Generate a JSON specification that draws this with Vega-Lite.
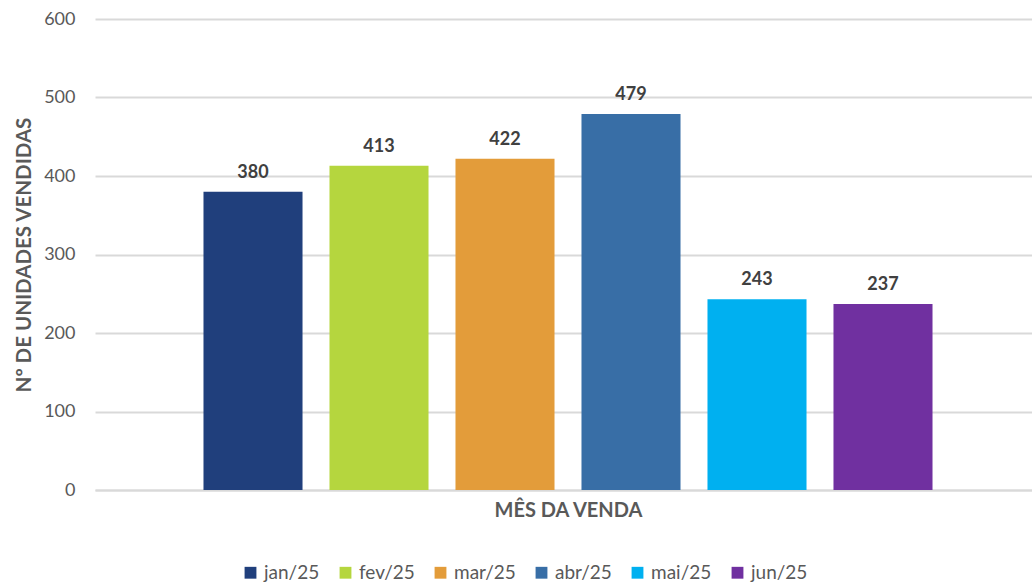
{
  "$schema": "https://vega.github.io/schema/vega-lite/v6.json",
  "autosize": {"type": "none"},
  "width": 937,
  "height": 471,
  "padding": {"left": 95, "top": 19, "right": 0, "bottom": 92},
  "background": "white",
  "config": {
    "font": "Lato",
    "view": {"stroke": null}
  },
  "data": {
    "values": [
      {"mes": "jan/25", "unidades": 380},
      {"mes": "fev/25", "unidades": 413},
      {"mes": "mar/25", "unidades": 422},
      {"mes": "abr/25", "unidades": 479},
      {"mes": "mai/25", "unidades": 243},
      {"mes": "jun/25", "unidades": 237}
    ]
  },
  "encoding": {
    "x": {
      "field": "mes",
      "type": "nominal",
      "sort": null,
      "scale": {"range": [0, 946], "paddingInner": 0.214, "paddingOuter": 0.861},
      "axis": {
        "title": "MÊS DA VENDA",
        "labels": false,
        "ticks": false,
        "domain": true,
        "domainColor": "#d9d9d9",
        "domainWidth": 2,
        "titleFontSize": 20,
        "titleFontWeight": "bold",
        "titleColor": "#595959",
        "titlePadding": 10
      }
    },
    "y": {
      "field": "unidades",
      "type": "quantitative",
      "scale": {"domain": [0, 600]},
      "axis": {
        "title": "Nº DE UNIDADES VENDIDAS",
        "values": [0, 100, 200, 300, 400, 500, 600],
        "domain": false,
        "ticks": false,
        "gridColor": "#d9d9d9",
        "gridWidth": 2,
        "labelFontSize": 18,
        "labelColor": "#595959",
        "labelPadding": 20,
        "titleFontSize": 20.5,
        "titleFontWeight": "bold",
        "titleColor": "#595959",
        "titlePadding": 9
      }
    }
  },
  "layer": [
    {
      "mark": {"type": "bar"},
      "encoding": {
        "color": {
          "field": "mes",
          "type": "nominal",
          "sort": null,
          "scale": {
            "domain": ["jan/25", "fev/25", "mar/25", "abr/25", "mai/25", "jun/25"],
            "range": ["#203F7C", "#B5D63E", "#E39C3A", "#386EA6", "#00B0F0", "#7030A0"]
          },
          "legend": {
            "title": null,
            "orient": "none",
            "legendX": 146,
            "legendY": 544,
            "direction": "horizontal",
            "symbolType": "square",
            "symbolSize": 140,
            "symbolStrokeWidth": 0,
            "labelFontSize": 19,
            "labelColor": "#595959",
            "columnPadding": 16
          }
        }
      }
    },
    {
      "mark": {"type": "text", "baseline": "bottom", "dy": -10, "fontSize": 18, "fontWeight": "bold", "color": "#404040"},
      "encoding": {
        "text": {"field": "unidades", "type": "quantitative"}
      }
    }
  ]
}
